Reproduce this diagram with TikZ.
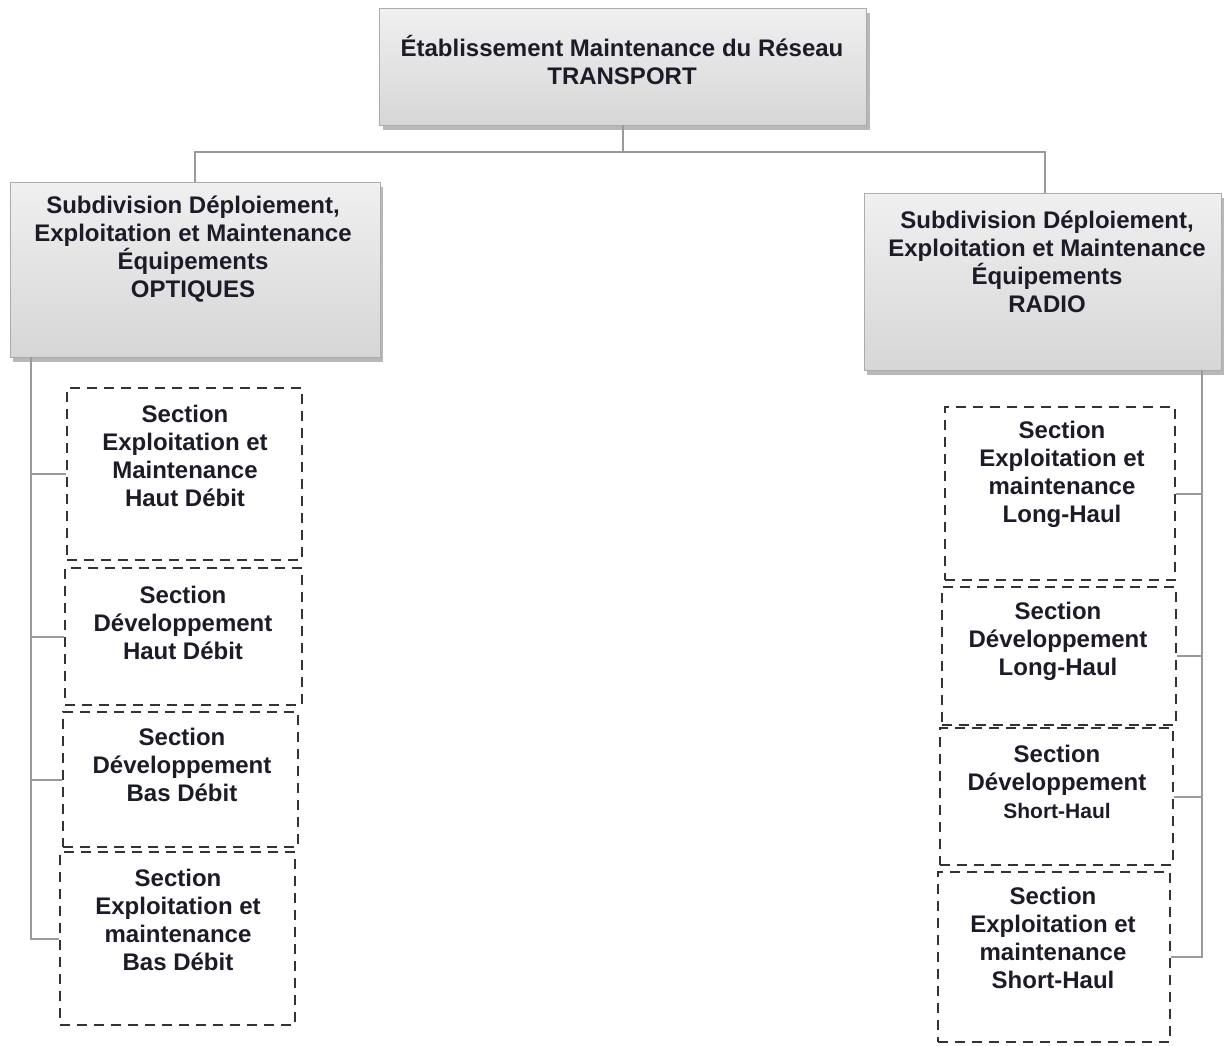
\documentclass[tikz,border=0pt]{standalone}
\usepackage{fontspec}
\setmainfont{Liberation Sans}
\usetikzlibrary{shadows,calc}

\definecolor{inkcol}{HTML}{1C1C28}
\definecolor{linkcol}{HTML}{9A9A9A}

\tikzset{
  greybox/.style={rectangle, draw=gray!65, line width=0.8pt,
    top color=gray!12, bottom color=gray!32,
    drop shadow={shadow xshift=3pt, shadow yshift=-5pt, fill=gray!70, opacity=0.8}},
  dashbox/.style={rectangle, draw=black!80, line width=1.6pt,
    dash pattern=on 10pt off 7pt},
  label/.style={align=center, inner sep=0pt, text=inkcol,
    font=\fontsize{24}{28}\selectfont\bfseries},
  conn/.style={draw=linkcol, line width=2pt},
}

\begin{document}
\begin{tikzpicture}[x=1pt, y=-1pt]
\useasboundingbox (0,0) rectangle (1225,1045);

% top level
\node[greybox, minimum width=487pt, minimum height=117pt] (top) at (623,66.5) {};
\node[label] (topt) at (622,60) {Établissement Maintenance du Réseau\\TRANSPORT};

% subdivisions
\node[greybox, minimum width=370pt, minimum height=175pt] (lft) at (195,269.5) {};
\node[label] (lftt) at (193,249) {Subdivision Déploiement,\\Exploitation et Maintenance\\Équipements\\OPTIQUES};

\node[greybox, minimum width=357pt, minimum height=177pt] (rgt) at (1042.5,281.5) {};
\node[label] (rgtt) at (1047,262) {Subdivision Déploiement,\\Exploitation et Maintenance\\Équipements\\RADIO};

% sections, optical side
\node[dashbox, minimum width=235pt, minimum height=172pt] (l1) at (184.5,474) {};
\node[label] (l1t) at (185,456) {Section\\Exploitation et\\Maintenance\\Haut Débit};
\node[dashbox, minimum width=237pt, minimum height=137pt] (l2) at (183.5,636.5) {};
\node[label] (l2t) at (183,623) {Section\\Développement\\Haut Débit};
\node[dashbox, minimum width=235pt, minimum height=135pt] (l3) at (180.5,779.5) {};
\node[label] (l3t) at (182,765) {Section\\Développement\\Bas Débit};
\node[dashbox, minimum width=235pt, minimum height=173pt] (l4) at (177.5,938.5) {};
\node[label] (l4t) at (178,920) {Section\\Exploitation et\\maintenance\\Bas Débit};

% sections, radio side
\node[dashbox, minimum width=230pt, minimum height=173pt] (r1) at (1060,493.5) {};
\node[label] (r1t) at (1062,474) {Section\\Exploitation et\\maintenance\\Long-Haul};
\node[dashbox, minimum width=234pt, minimum height=138pt] (r2) at (1059,656) {};
\node[label] (r2t) at (1058,641) {Section\\Développement\\Long-Haul};
\node[dashbox, minimum width=233pt, minimum height=137pt] (r3) at (1056.5,796.5) {};
\node[label] (r3t) at (1057,782) {Section\\Développement\\{\fontsize{21}{26}\selectfont Short-Haul}};
\node[dashbox, minimum width=232pt, minimum height=170pt] (r4) at (1054,957) {};
\node[label] (r4t) at (1053,938) {Section\\Exploitation et\\maintenance\\Short-Haul};

% connectors
\coordinate (bus) at ($(top.south)+(0,27)$);
\draw[conn] (top.south) -- (bus);
\draw[conn] (bus) -| (lft.north);
\draw[conn] (bus) -| ($(rgt.north)+(2.5,0)$);

\coordinate (spl) at (31,357);
\draw[conn] (spl) |- (l1.west);
\draw[conn] (spl) |- (l2.west);
\draw[conn] (spl) |- (l3.west);
\draw[conn] (spl) |- (l4.west);

\coordinate (spr) at (1202,370);
\draw[conn] (spr) |- (r1.east);
\draw[conn] (spr) |- (r2.east);
\draw[conn] (spr) |- (r3.east);
\draw[conn] (spr) |- (r4.east);
\end{tikzpicture}
\end{document}
